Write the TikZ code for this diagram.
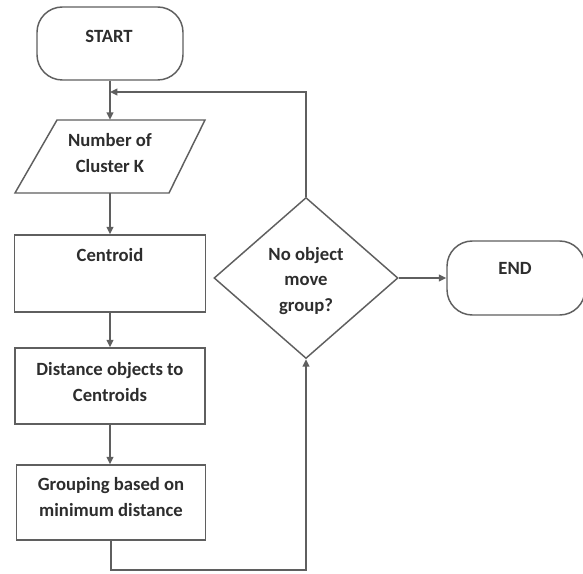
\documentclass[tikz,border=0pt]{standalone}
\usepackage{fontspec}
\setmainfont{Carlito}
\usetikzlibrary{shapes.geometric,arrows.meta,calc}
\definecolor{ln}{RGB}{95,95,95}
\definecolor{tx}{RGB}{45,45,45}
\begin{document}
\begin{tikzpicture}[x=0.75pt,y=-0.75pt,
  every node/.style={font=\fontsize{14}{19}\selectfont\bfseries, text=tx},
  shp/.style={draw=ln, line width=1.1pt, fill=white, inner sep=0pt},
  term/.style={shp, rounded corners=19pt},
  procbox/.style={shp, rectangle},
  iobox/.style={draw=ln, line width=1.1pt, fill=white, line join=miter},
  decbox/.style={shp, diamond, aspect=1.15},
  lbl/.style={align=center, inner sep=0pt},
  conn/.style={draw=ln, line width=1.1pt, -{Triangle[length=5.5pt,width=5pt]}}]
\useasboundingbox (0,0) rectangle (583,574);
% shapes
\node[term, minimum width=146*0.75pt, minimum height=73*0.75pt] (start) at (110,43.5) {};
\draw[iobox] (57,120) -- (205,120) -- (169,193) -- (15,193) -- cycle;
\node[rectangle, inner sep=0pt, minimum width=148*0.75pt, minimum height=73*0.75pt] (para) at (110,156.5) {};
\node[procbox, minimum width=191*0.75pt, minimum height=77*0.75pt] (cent) at (110,273.5) {};
\node[procbox, minimum width=190*0.75pt, minimum height=76*0.75pt] (dist) at (110,386) {};
\node[procbox, minimum width=189*0.75pt, minimum height=75*0.75pt] (grp) at (111,502.5) {};
\node[decbox, minimum width=184*0.75pt, minimum height=161*0.75pt] (dec) at (306,278) {};
\node[term, minimum width=138*0.75pt, minimum height=74*0.75pt] (end) at (516,278) {};
% texts
\node[lbl] (tstart) at (109,36) {START};
\node[lbl] (tpara) at (110,153) {Number of\\Cluster K};
\node[lbl] (tcent) at (110,255) {Centroid};
\node[lbl] (tdist) at (110,382) {Distance objects to\\Centroids};
\node[lbl] (tgrp) at (111,497) {Grouping based on\\minimum distance};
\node[lbl] (tdec) at (306,281) {No object\\move\\group?};
\node[lbl] (tend) at (515,268) {END};
% connectors
\coordinate (fb) at (110,92);
\coordinate (bot) at (111,570);
\draw[conn] (start.south) -- (para.north);
\draw[conn] (para.south) -- (cent.north);
\draw[conn] (cent.south) -- (dist.north);
\draw[conn] (dist.south) -- ($(grp.north)+(-1,0)$);
\draw[conn] (dec.north) |- (fb);
\draw[conn] (grp.south) -- (bot) -| (dec.south);
\draw[conn] (dec.east) -- (end.west);
\end{tikzpicture}
\end{document}
